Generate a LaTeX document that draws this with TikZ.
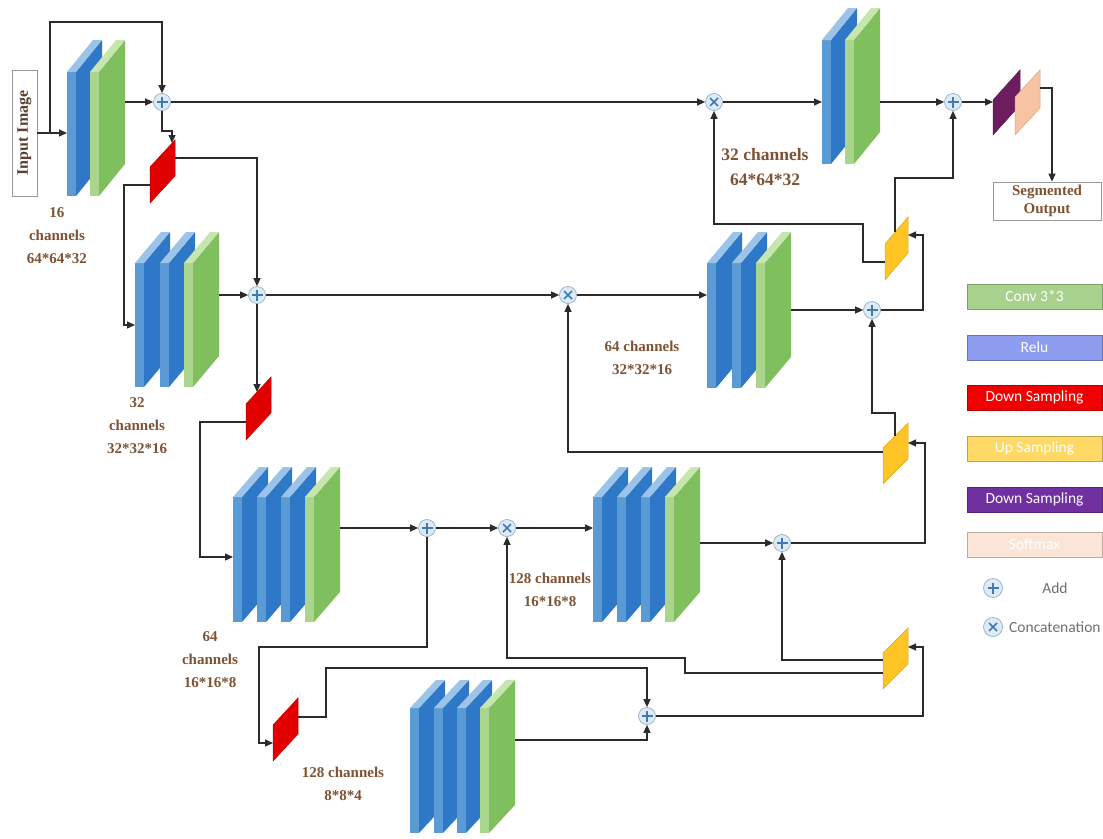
\documentclass[tikz,border=0pt]{standalone}
\usepackage{fontspec}
\newfontfamily\labserif{Liberation Serif}
\newfontfamily\legsans{Carlito}
\usetikzlibrary{arrows.meta}
\definecolor{linec}{HTML}{2B2B2B}
\definecolor{bfront}{HTML}{5B9BD5}
\definecolor{bside}{HTML}{2F78C8}
\definecolor{btop}{HTML}{9CC3E8}
\definecolor{gfront}{HTML}{A9D68C}
\definecolor{gside}{HTML}{7FBF5E}
\definecolor{gtop}{HTML}{C6E6AD}
\definecolor{redc}{HTML}{E00000}
\definecolor{yelc}{HTML}{FFC425}
\definecolor{purc}{HTML}{6D1D5F}
\definecolor{peachc}{HTML}{F7C3A3}
\definecolor{opfill}{HTML}{DFEAF5}
\definecolor{opbord}{HTML}{8FB0CF}
\definecolor{opsym}{HTML}{3C7BB8}
\definecolor{labc}{HTML}{7F5234}
\definecolor{inc}{HTML}{5A4030}
\definecolor{boxc}{HTML}{9A9A9A}
\definecolor{legtc}{HTML}{707070}
\definecolor{legconv}{HTML}{A9D18E}
\definecolor{legrelu}{HTML}{8E9CF0}
\definecolor{legdown}{HTML}{F00000}
\definecolor{legup}{HTML}{FFD966}
\definecolor{legpur}{HTML}{7030A0}
\definecolor{legsoft}{HTML}{FBE5D6}
\newcommand\myslab[7]{%
  \fill[#6] (#1+9,#2) -- (#1+35,#2-#4) -- (#1+35,#3-#4) -- (#1+9,#3) -- cycle;
  \fill[#5] (#1,#2) rectangle (#1+9,#3);
  \fill[#7] (#1,#2) -- (#1+9,#2) -- (#1+35,#2-#4) -- (#1+26,#2-#4) -- cycle;
}
\newcommand\bslab[4]{\myslab{#1}{#2}{#3}{#4}{bfront}{bside}{btop}}
\newcommand\gslab[4]{\myslab{#1}{#2}{#3}{#4}{gfront}{gside}{gtop}}
\newcommand\mypara[6]{\filldraw[#6] (#1,#2+#4) -- (#1+#3,#2) -- (#1+#3,#2+#5) -- (#1,#2+#4+#5) -- cycle;}
\tikzset{
  conn/.style={draw=linec, line width=1.2pt},
  arr/.style={conn, -{Triangle[length=8pt,width=7pt]}},
  opnode/.style={circle, draw=opbord, fill=opfill, minimum size=17pt, inner sep=0pt, line width=0.7pt},
  addop/.style={opnode, path picture={\draw[opsym,line width=1.4pt]
     ([xshift=-5.5pt]path picture bounding box.center) -- ([xshift=5.5pt]path picture bounding box.center)
     ([yshift=-5.5pt]path picture bounding box.center) -- ([yshift=5.5pt]path picture bounding box.center);}},
  catop/.style={opnode, path picture={\draw[opsym,line width=1.6pt]
     ([shift={(-4pt,-4pt)}]path picture bounding box.center) -- ([shift={(4pt,4pt)}]path picture bounding box.center)
     ([shift={(-4pt,4pt)}]path picture bounding box.center) -- ([shift={(4pt,-4pt)}]path picture bounding box.center);}},
  lab/.style={text=labc, font=\labserif\bfseries\fontsize{15}{23}\selectfont, align=center, inner sep=0pt},
  legbox/.style={draw=#1!75!black, fill=#1, minimum width=135pt, minimum height=25pt, inner sep=0pt,
     text=white, font=\legsans\fontsize{15.5}{17}\selectfont},
  legtxt/.style={text=legtc, font=\legsans\fontsize{15.5}{17}\selectfont, inner sep=0pt},
  redbox/.style={fill=redc, draw=redc!85!black, line width=0.5pt},
  yelbox/.style={fill=yelc, draw=yelc!85!black, line width=0.5pt},
}
\begin{document}
\begin{tikzpicture}[x=1pt,y=-1pt]
\useasboundingbox (0,0) rectangle (1103,838);
\fill[white] (0,0) rectangle (1103,838);

% ---------- blocks ----------
\bslab{67}{72}{196}{32} \gslab{90}{72}{196}{32}
\bslab{135}{263}{387}{31} \bslab{160}{263}{387}{31} \gslab{184}{263}{387}{31}
\bslab{233}{497}{622}{30} \bslab{257}{497}{622}{30} \bslab{281}{497}{622}{30} \gslab{305}{497}{622}{30}
\bslab{410}{708}{833}{28} \bslab{434}{708}{833}{28} \bslab{457}{708}{833}{28} \gslab{480}{708}{833}{28}
\bslab{593}{497}{622}{30} \bslab{617}{497}{622}{30} \bslab{641}{497}{622}{30} \gslab{665}{497}{622}{30}
\bslab{707}{263}{388}{31} \bslab{732}{263}{388}{31} \gslab{756}{263}{388}{31}
\bslab{822}{40}{164}{32} \gslab{845}{40}{164}{32}

% ---------- sampling parallelograms ----------
\mypara{150}{140}{25}{27}{36}{redbox}
\mypara{246}{377}{25}{27}{36}{redbox}
\mypara{273}{698}{25}{27}{36}{redbox}
\mypara{885}{217}{23}{27}{36}{yelbox}
\mypara{883}{423}{25}{25}{36}{yelbox}
\mypara{883}{628}{25}{25}{36}{yelbox}
\mypara{993}{70}{27}{30}{35}{fill=purc, draw=purc!80!black, line width=0.5pt}
\mypara{1015}{70}{25}{27}{38}{fill=peachc, draw=peachc!85!black, line width=0.5pt}

% ---------- connection points ----------
\coordinate (e1in) at (67,133);   \coordinate (e1out) at (125,102);
\coordinate (sk1) at (50,133);
\coordinate (e2in) at (135,325);  \coordinate (e2out) at (219,295);
\coordinate (e3in) at (233,557);  \coordinate (e3out) at (340,528);
\coordinate (bout) at (515,740);
\coordinate (d3in) at (593,528);  \coordinate (d3out) at (700,543);
\coordinate (d2in) at (707,295);  \coordinate (d2out) at (791,310);
\coordinate (d1in) at (822,102);  \coordinate (d1out) at (880,102);
\coordinate (r1top) at (172,143); \coordinate (r1r) at (175,158); \coordinate (r1l) at (150,185);
\coordinate (r2top) at (257,392); \coordinate (r2l) at (246,422);
\coordinate (r3in) at (273,743);  \coordinate (r3r) at (298,717);
\coordinate (y1l) at (885,262);   \coordinate (y1r) at (908,235); \coordinate (y1top) at (895,232);
\coordinate (y2l) at (883,452);   \coordinate (y2r) at (908,443); \coordinate (y2top) at (895,436);
\coordinate (y3l1) at (883,660);  \coordinate (y3l2) at (883,673); \coordinate (y3r) at (908,647);
\coordinate (pl) at (993,102);    \coordinate (pr) at (1040,88);
\coordinate (pturn) at (1052,88);

% ---------- operator nodes ----------
\node[addop] (add1) at (162,102) {};
\node[catop] (cat1) at (714,102) {};
\node[addop] (add7) at (953,102) {};
\node[addop] (add2) at (257,295) {};
\node[catop] (cat2) at (568,295) {};
\node[addop] (add6) at (872,310) {};
\node[addop] (add3) at (427,528) {};
\node[catop] (cat3) at (507,528) {};
\node[addop] (add5) at (782,543) {};
\node[addop] (add4) at (647,716) {};

% ---------- boxes ----------
\node[draw=boxc, line width=0.8pt, minimum width=25pt, minimum height=126pt, inner sep=0pt] (inbox) at (24.5,133) {};
\node[rotate=90, text=inc, font=\labserif\bfseries\fontsize{16}{18}\selectfont, inner sep=0pt] (intext) at (inbox.center) {Input Image};
\node[draw=boxc, line width=0.8pt, minimum width=108pt, minimum height=38pt, inner sep=0pt,
      text=labc, font=\labserif\bfseries\fontsize{15}{18}\selectfont, align=center] (segout) at (1047,201) {Segmented\\Output};

% ---------- labels ----------
\node[lab] (l1) at (57,236) {16\\channels\\64*64*32};
\node[lab] (l2) at (137,426) {32\\channels\\32*32*16};
\node[lab] (l3) at (210,660) {64\\channels\\16*16*8};
\node[lab] (l4) at (343,784) {128 channels\\8*8*4};
\node[lab] (l5) at (550,590) {128 channels\\16*16*8};
\node[lab] (l6) at (642,358) {64 channels\\32*32*16};
\node[lab, font=\labserif\bfseries\fontsize{17.5}{25}\selectfont] (l7) at (765,167) {32 channels\\64*64*32};

% ---------- connectors ----------
\draw[arr] (inbox.east) -- (e1in);
\draw[arr] (sk1) -- (50,22) -| (add1);
\draw[arr] (e1out) -- (add1);
\draw[arr] (add1) -- (cat1);
\draw[arr] (add1) -- (162,131) -| (r1top);
\draw[arr] (r1r) -| (add2);
\draw[arr] (r1l) -- (124,185) |- (e2in);
\draw[arr] (e2out) -- (add2);
\draw[arr] (add2) -- (cat2);
\draw[arr] (add2) -- (r2top);
\draw[arr] (r2l) -- (200,422) |- (e3in);
\draw[arr] (e3out) -- (add3);
\draw[arr] (add3) -- (cat3);
\draw[arr] (cat3) -- (d3in);
\draw[arr] (add3) -- (427,647) -- (259,647) |- (r3in);
\draw[arr] (r3r) -- (326,717) |- (647,668) -- (add4);
\draw[arr] (bout) -| (add4);
\draw[arr] (add4) -- (923,716) |- (y3r);
\draw[arr] (y3l1) -| (add5);
\draw[arr] (y3l2) -- (685,673) -- (685,658) -| (cat3);
\draw[arr] (d3out) -- (add5);
\draw[arr] (add5) -- (925,543) |- (y2r);
\draw[arr] (y2l) -| (cat2);
\draw[arr] (y2top) -- (895,413) -| (add6);
\draw[arr] (cat2) -- (d2in);
\draw[arr] (d2out) -- (add6);
\draw[arr] (add6) -- (923,310) |- (y1r);
\draw[arr] (y1l) -- (863,262) -- (863,224) -| (cat1);
\draw[arr] (y1top) -- (895,178) -| (add7);
\draw[arr] (cat1) -- (d1in);
\draw[arr] (d1out) -- (add7);
\draw[arr] (add7) -- (pl);
\draw[arr] (pr) -- (pturn) -- (segout.north -| pturn);

% ---------- legend ----------
\node[legbox=legconv] (lg1) at (1034.5,296.5) {Conv 3*3};
\node[legbox=legrelu] (lg2) at (1034.5,347.5) {Relu};
\node[legbox=legdown] (lg3) at (1034.5,397.5) {Down Sampling};
\node[legbox=legup]   (lg4) at (1034.5,448.5) {Up Sampling};
\node[legbox=legpur]  (lg5) at (1034.5,499.5) {Down Sampling};
\node[legbox=legsoft] (lg6) at (1034.5,544.5) {Softmax};
\node[addop, minimum size=19pt] (lgadd) at (993,588) {};
\node[legtxt] (lgaddt) at (1055,588) {Add};
\node[catop, minimum size=19pt] (lgcat) at (993,627) {};
\node[legtxt, anchor=west] (lgcatt) at (1009,627) {Concatenation};
\end{tikzpicture}
\end{document}
